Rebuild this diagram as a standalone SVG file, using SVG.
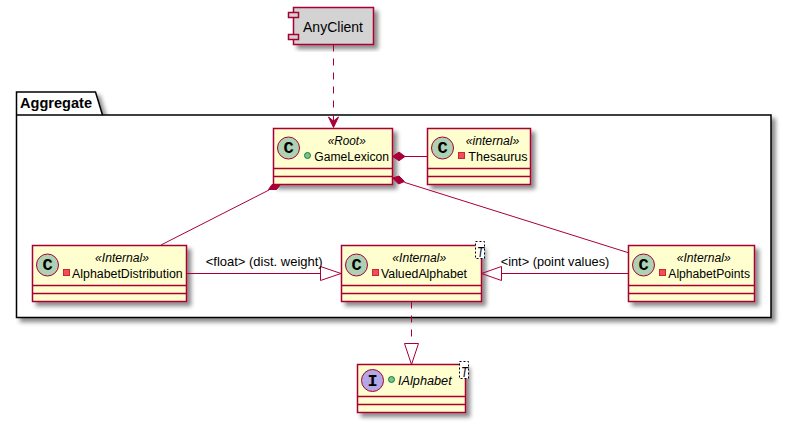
<svg xmlns="http://www.w3.org/2000/svg" width="786" height="425" viewBox="0 0 786 425">
<style>
text{font-family:"Liberation Sans",Arial,sans-serif;fill:#000}
.box{fill:#FEFECE;stroke:#A80036;stroke-width:1.5}
.sep{stroke:#A80036;stroke-width:1.5;fill:none}
.circ{stroke:#A80036;stroke-width:1}
.name{font-size:12px}
.st{font-size:12px;font-style:italic}
.gl{font-family:"Liberation Mono",monospace;font-size:17px;font-weight:bold;text-anchor:middle}
.lbl{font-size:13px}
.tv{font-size:14px;font-style:italic}
.line{stroke:#A80036;stroke-width:1;fill:none}
.fill{stroke:#A80036;stroke-width:1;fill:#A80036}
.tbox{fill:#fff;stroke:#000;stroke-width:1;stroke-dasharray:2,2}
.pub{fill:#84BE84;stroke:#038048;stroke-width:1}
.pri{fill:#F24D5C;stroke:#C82930;stroke-width:1}
</style>
<defs>
<filter id="sh" x="-10%" y="-10%" width="125%" height="130%">
<feDropShadow dx="4" dy="4" stdDeviation="2" flood-color="#000" flood-opacity="0.45"/>
</filter>
</defs>
<g id="pkg-Aggregate">
<path d="M16.500 115V92H95.500L102.500 115H771V317.500H16.500Z" fill="#fff" stroke="#000" stroke-width="1.500" filter="url(#sh)"/>
<path d="M16.500 115H102.500" fill="none" stroke="#000" stroke-width="1.500"/>
<text x="20" y="108" font-size="14" font-weight="bold" textLength="72" lengthAdjust="spacingAndGlyphs">Aggregate</text>
</g>
<g id="node-AnyClient">
<rect x="293.500" y="7.500" width="80" height="37" fill="#D3D3D3" stroke="#A80036" stroke-width="1.500" filter="url(#sh)"/>
<rect x="288.500" y="12.500" width="10" height="5" fill="#D3D3D3" stroke="#A80036" stroke-width="1.500"/>
<rect x="288.500" y="34.500" width="10" height="5" fill="#D3D3D3" stroke="#A80036" stroke-width="1.500"/>
<text x="303" y="32" font-size="14" textLength="60" lengthAdjust="spacingAndGlyphs">AnyClient</text>
</g>
<g id="node-GameLexicon">
<rect class="box" x="273.500" y="128.500" width="119" height="56" filter="url(#sh)"/>
<path class="sep" d="M273.500 168.500H392.500M273.500 176.500H392.500"/>
<circle class="circ" cx="288.500" cy="148" r="11" fill="#ADD1B2"/>
<text class="gl" x="288.500" y="153">C</text>
<circle class="pub" cx="307.500" cy="155.500" r="3"/>
<text class="name" x="314.300" y="161" textLength="74.700" lengthAdjust="spacingAndGlyphs">GameLexicon</text>
<text class="st" x="327.700" y="145" textLength="38" lengthAdjust="spacingAndGlyphs">«Root»</text>
</g>
<g id="node-Thesaurus">
<rect class="box" x="427.500" y="128.500" width="103" height="56" filter="url(#sh)"/>
<path class="sep" d="M427.500 168.500H530.500M427.500 176.500H530.500"/>
<circle class="circ" cx="442.500" cy="148" r="11" fill="#ADD1B2"/>
<text class="gl" x="442.500" y="153">C</text>
<rect class="pri" x="458.500" y="152.500" width="6" height="6"/>
<text class="name" x="468.300" y="161" textLength="59.300" lengthAdjust="spacingAndGlyphs">Thesaurus</text>
<text class="st" x="465.700" y="145" textLength="53.600" lengthAdjust="spacingAndGlyphs">«internal»</text>
</g>
<g id="node-AlphabetDistribution">
<rect class="box" x="32.500" y="245.500" width="154" height="56" filter="url(#sh)"/>
<path class="sep" d="M32.500 285.500H186.500M32.500 293.500H186.500"/>
<circle class="circ" cx="47.500" cy="265" r="11" fill="#ADD1B2"/>
<text class="gl" x="47.500" y="270">C</text>
<rect class="pri" x="63.500" y="269.500" width="6" height="6"/>
<text class="name" x="72" y="278" textLength="110.700" lengthAdjust="spacingAndGlyphs">AlphabetDistribution</text>
<text class="st" x="95" y="262" textLength="54" lengthAdjust="spacingAndGlyphs">«Internal»</text>
</g>
<g id="node-ValuedAlphabet">
<rect class="box" x="341.500" y="245.500" width="140" height="56" filter="url(#sh)"/>
<path class="sep" d="M341.500 285.500H481.500M341.500 293.500H481.500"/>
<circle class="circ" cx="356.500" cy="265" r="11" fill="#ADD1B2"/>
<text class="gl" x="356.500" y="270">C</text>
<rect class="pri" x="372.500" y="269.500" width="6" height="6"/>
<text class="name" x="381" y="278" textLength="86" lengthAdjust="spacingAndGlyphs">ValuedAlphabet</text>
<text class="st" x="392.300" y="262" textLength="54" lengthAdjust="spacingAndGlyphs">«Internal»</text>
<rect class="tbox" x="475.500" y="241.500" width="9" height="17"/>
<text class="tv" x="477" y="257" textLength="7" lengthAdjust="spacingAndGlyphs">T</text>
</g>
<g id="node-AlphabetPoints">
<rect class="box" x="628.500" y="245.500" width="126" height="56" filter="url(#sh)"/>
<path class="sep" d="M628.500 285.500H754.500M628.500 293.500H754.500"/>
<circle class="circ" cx="643.500" cy="265" r="11" fill="#ADD1B2"/>
<text class="gl" x="643.500" y="270">C</text>
<rect class="pri" x="659.500" y="269.500" width="6" height="6"/>
<text class="name" x="668.300" y="278" textLength="81.700" lengthAdjust="spacingAndGlyphs">AlphabetPoints</text>
<text class="st" x="676.700" y="262" textLength="54" lengthAdjust="spacingAndGlyphs">«Internal»</text>
</g>
<g id="node-IAlphabet">
<rect class="box" x="357.500" y="364.500" width="108" height="48" filter="url(#sh)"/>
<path class="sep" d="M357.500 396.500H465.500M357.500 404.500H465.500"/>
<circle class="circ" cx="372.500" cy="380.500" r="11" fill="#B4A7E5"/>
<text class="gl" x="372.500" y="386">I</text>
<circle class="pub" cx="391.500" cy="379.500" r="3"/>
<text class="st" x="398" y="385" textLength="53.700" lengthAdjust="spacingAndGlyphs">IAlphabet</text>
<rect class="tbox" x="459.500" y="361.500" width="9" height="17"/>
<text class="tv" x="461" y="376.500" textLength="7" lengthAdjust="spacingAndGlyphs">T</text>
</g>
<g id="connectors">
<path class="line" d="M333.500 44.500V126" stroke-dasharray="7,7"/>
<path class="fill" d="M328.500 117L333.500 127.500L338.500 117L333.500 121Z"/>
<path class="line" d="M161 245L269 190"/>
<path class="fill" d="M272 184.500L280.500 184.500L276.500 189.500L268.500 189.500Z"/>
<path class="line" d="M405 156.500H427"/>
<path class="fill" d="M392.700 156.500L399 152L405 156.500L399 160.700Z"/>
<path class="line" d="M404.300 182.300L628.300 252.700"/>
<path class="fill" d="M392.700 178L399 176L404.500 181.500L398.500 184Z"/>
<path class="line" d="M187 273.500H320.500"/>
<path class="line" d="M320.500 266.500V280.500L341 273.500Z"/>
<path class="line" d="M628 273.500H501.500"/>
<path class="line" d="M501.500 266.500V280.500L481.500 273.500Z"/>
<path class="line" d="M411.500 301.500V343" stroke-dasharray="7,7"/>
<path class="line" d="M404.500 343.500H418.500L411.500 364.500Z"/>
</g>
<text class="lbl" x="205.700" y="265.500" textLength="117" lengthAdjust="spacingAndGlyphs">&lt;float&gt; (dist. weight)</text>
<text class="lbl" x="500.700" y="265.500" textLength="108.600" lengthAdjust="spacingAndGlyphs">&lt;int&gt; (point values)</text>
</svg>
